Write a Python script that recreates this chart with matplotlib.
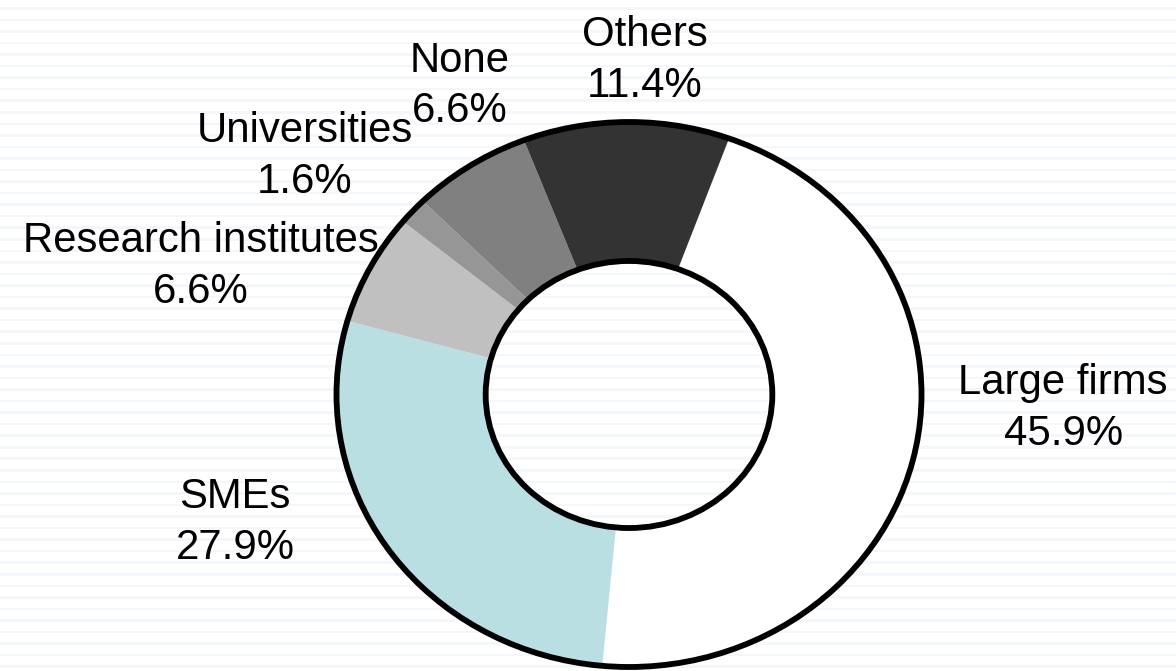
import numpy as np
import matplotlib
matplotlib.use("Agg")
import matplotlib.pyplot as plt
from matplotlib.patches import Circle

# data
categories = ["Large firms", "SMEs", "Research institutes", "Universities", "None", "Others"]
shares = [45.9, 27.9, 6.6, 1.6, 6.6, 11.4]

# styles / layout
colors = ["#ffffff", "#b9dfe3", "#c0c0c0", "#969696", "#808080", "#333333"]
label_pos = [(1.484, -0.05), (-1.347, -0.47), (-1.463, 0.47),
             (-1.108, 0.872), (-0.578, 1.132), (0.055, 1.225)]

plt.rcParams['font.family'] = ['Liberation Sans', 'DejaVu Sans']

W, H = 1176, 671
fig = plt.figure(figsize=(W / 100, H / 100), dpi=100)

# striped background
bg = fig.add_axes([0, 0, 1, 1])
bg.set_xlim(0, 1)
bg.set_ylim(H, 0)
for y in np.arange(7.0, H, 11.55):
    bg.axhspan(y, y + 2.6, color="#f3f7fb", lw=0)
bg.axis("off")

# donut axes: centre (629, 394.5) px, radii 292.5 x 272.5 px
L = 1.1
cx, cy, rx, ry = 629, 394.5, 292.5, 272.5
ax = fig.add_axes([(cx - L * rx) / W, (H - cy - L * ry) / H,
                   2 * L * rx / W, 2 * L * ry / H])
ax.patch.set_visible(False)

ax.pie(shares, colors=colors, startangle=70, counterclock=False, radius=1,
       wedgeprops=dict(width=0.51, edgecolor="none", linewidth=0))
ax.set_aspect("auto")
ax.set_xlim(-L, L)
ax.set_ylim(-L, L)

ax.add_patch(Circle((0, 0), 1.0, fill=False, ec="black", lw=4.2))
ax.add_patch(Circle((0, 0), 0.49, fill=False, ec="black", lw=4.2))

for name, val, (x, y) in zip(categories, shares, label_pos):
    ax.text(x, y, f"{name}\n{val:.1f}%", ha="center", va="center",
            fontsize=30.2, linespacing=1.35, clip_on=False)

ax.axis("off")
fig.savefig("out.png", dpi=100)
